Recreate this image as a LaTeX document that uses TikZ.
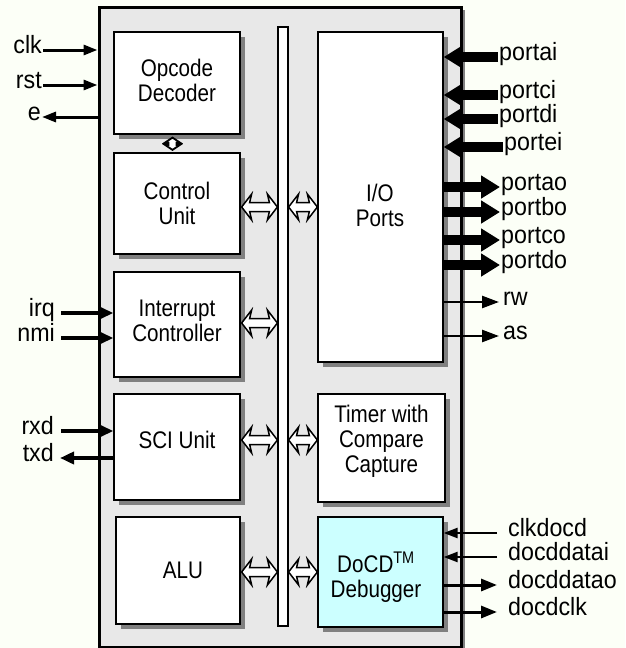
\documentclass[tikz,border=0pt]{standalone}
\usepackage{fontspec}
\setmainfont{Liberation Sans}
\newfontfamily\blkfont[FakeStretch=0.86]{Liberation Sans}
\newfontfamily\lblfont[FakeStretch=0.93]{Liberation Sans}
\usetikzlibrary{arrows.meta,shadows,calc}
\definecolor{bgc}{RGB}{252,255,247}
\definecolor{chipc}{RGB}{232,232,232}
\definecolor{dbgc}{RGB}{204,255,255}
\definecolor{shadowc}{RGB}{128,128,128}
\newcommand\hdbl[2]{\draw[dblarr] let \p1=(#1), \p2=(#2) in
  (\x1,\y1) -- (\x1+10pt,\y1+13pt) -- (\x1+8pt,\y1+4.5pt) -- (\x2-8pt,\y1+4.5pt) -- (\x2-10pt,\y1+13pt) -- (\x2,\y1)
  -- (\x2-10pt,\y1-13pt) -- (\x2-8pt,\y1-4.5pt) -- (\x1+8pt,\y1-4.5pt) -- (\x1+10pt,\y1-13pt) -- cycle;}
\newcommand\vdbl[2]{\draw[dblarr,line width=1.8pt] let \p1=(#1), \p2=(#2) in
  (\x1,\y1) -- (\x1+7.5pt,\y1-5pt) -- (\x1+4pt,\y1-5pt) -- (\x1+4pt,\y2+5pt) -- (\x1+7.5pt,\y2+5pt) -- (\x1,\y2)
  -- (\x1-7.5pt,\y2+5pt) -- (\x1-4pt,\y2+5pt) -- (\x1-4pt,\y1-5pt) -- (\x1-7.5pt,\y1-5pt) -- cycle;}
\begin{document}
\begin{tikzpicture}[x=1pt,y=-1pt,
  btxt/.style={font=\blkfont\fontsize{24}{25}\selectfont,align=center},
  blk/.style={draw,line width=1.3pt,fill=white,align=center,
    drop shadow={shadow xshift=5pt,shadow yshift=-5pt,fill=shadowc,opacity=1}},
  lbl/.style={font=\lblfont\fontsize{25}{26}\selectfont,inner sep=1pt,text height=1.5ex,text depth=.25ex},
  dblarr/.style={draw,line width=1.5pt,fill=white,line join=miter},
  sigA/.style={line width=3pt,-{Triangle[length=14pt,width=10pt]}},
  irqA/.style={line width=4.8pt,-{Triangle[length=14pt,width=12pt]}},
  bigA/.style={line width=9.5pt,-{Triangle[length=19pt,width=22pt]}},
  thinA/.style={line width=2.5pt,-{Triangle[length=17pt,width=12pt]}},
  dinA/.style={line width=2.4pt,-{Triangle[length=14pt,width=10pt]}},
  doutA/.style={line width=3pt,-{Triangle[length=16pt,width=12pt]}}]
\useasboundingbox (0,0) rectangle (625,648);
\fill[bgc] (0,0) rectangle (625,648);
% chip
\fill[shadowc] (102,10) rectangle (465,652);
\node[draw,line width=3pt,fill=chipc,minimum width=362pt,minimum height=640pt,inner sep=0pt] (chip) at (280,327) {};
% bus
\node[draw,line width=1.2pt,fill=white,minimum width=10pt,minimum height=599pt,inner sep=0pt] (bus) at (283,326.5) {};
% blocks
\node[blk,minimum width=126pt,minimum height=102pt] (opc) at (177,83) {};
\node[btxt] (opct) at (177,80) {Opcode\\Decoder};
\node[blk,minimum width=126pt,minimum height=101pt] (ctl) at (177,203.5) {};
\node[btxt] (ctlt) at (177,203) {Control\\Unit};
\node[blk,minimum width=126pt,minimum height=105pt] (irc) at (177,324.5) {};
\node[btxt] (irct) at (177,321) {Interrupt\\Controller};
\node[blk,minimum width=126pt,minimum height=106pt] (sci) at (177,447) {};
\node[btxt] (scit) at (177,440) {SCI Unit};
\node[blk,minimum width=124pt,minimum height=107pt] (alu) at (178,570.5) {};
\node[btxt] (alut) at (183,570) {ALU};
\node[blk,minimum width=125pt,minimum height=330pt] (io) at (380.5,197) {};
\node[btxt] (iot) at (380,205) {I/O\\Ports};
\node[blk,minimum width=127pt,minimum height=108pt] (tmr) at (381.5,448) {};
\node[btxt] (tmrt) at (381.5,441) {Timer with\\Compare\\Capture};
\node[blk,fill=dbgc,minimum width=125pt,minimum height=110pt] (dbg) at (380.5,572) {};
\node[btxt] (dbgt) at (376,577) {DoCD\textsuperscript{TM}\\Debugger};
% bus connectors
\hdbl{$(ctl.east)+(1,3.5)$}{bus.west}
\hdbl{$(irc.east)+(1,-1.5)$}{bus.west}
\hdbl{$(sci.east)+(1,-7)$}{bus.west}
\hdbl{$(alu.east)+(1,1.5)$}{bus.west}
\hdbl{$(bus.east |- ctl.east)+(0,3.5)$}{io.west}
\hdbl{$(bus.east |- sci.east)+(0,-7)$}{tmr.west}
\hdbl{$(bus.east |- alu.east)+(0,1.5)$}{dbg.west}
\vdbl{$(opc.south)+(-4.5,3)$}{$(ctl.north)+(0,-2.5)$}
% left labels and signals
\node[lbl,anchor=east] (clk) at (43,50) {clk};
\node[lbl,anchor=east] (rst) at (43,85) {rst};
\node[lbl,anchor=east] (e) at (42,117) {e};
\draw[sigA] (clk.east) -- (clk.east -| chip.west);
\draw[sigA] (rst.east) -- (rst.east -| chip.west);
\draw[sigA] (e.east -| chip.west) -- (e.east);
\node[lbl,anchor=east] (irq) at (56,313) {irq};
\node[lbl,anchor=east] (nmi) at (56,338) {nmi};
\node[lbl,anchor=east] (rxd) at (55,431) {rxd};
\node[lbl,anchor=east] (txd) at (55,458) {txd};
\draw[irqA] ($(irq.east)+(5,0)$) -- (irq.east -| irc.west);
\draw[irqA] ($(nmi.east)+(5,0)$) -- (nmi.east -| irc.west);
\draw[irqA] ($(rxd.east)+(6,0)$) -- (rxd.east -| sci.west);
\draw[irqA] (txd.east -| sci.west) -- ($(txd.east)+(5,0)$);
% right labels and signals
\node[lbl,anchor=west] (pai) at (498,57) {portai};
\node[lbl,anchor=west] (pci) at (498,95) {portci};
\node[lbl,anchor=west] (pdi) at (498,119) {portdi};
\node[lbl,anchor=west] (pei) at (503,147) {portei};
\foreach \n in {pai,pci,pdi,pei}
  \draw[bigA] (\n.west) -- (\n.west -| io.east);
\node[lbl,anchor=west] (pao) at (500,187) {portao};
\node[lbl,anchor=west] (pbo) at (500,212) {portbo};
\node[lbl,anchor=west] (pco) at (500,240) {portco};
\node[lbl,anchor=west] (pdo) at (500,265) {portdo};
\foreach \n in {pao,pbo,pco,pdo}
  \draw[bigA] (\n.west -| io.east) -- (\n.west);
\node[lbl,anchor=west] (rw) at (502,302) {rw};
\node[lbl,anchor=west] (as) at (502,336) {as};
\draw[thinA] (rw.west -| io.east) -- ($(rw.west)+(-3,0)$);
\draw[thinA] (as.west -| io.east) -- ($(as.west)+(-3,0)$);
\node[lbl,anchor=west] (ckd) at (507,533) {clkdocd};
\node[lbl,anchor=west] (ddi) at (507,557) {docddatai};
\node[lbl,anchor=west] (ddo) at (507,585) {docddatao};
\node[lbl,anchor=west] (dck) at (507,612) {docdclk};
\draw[dinA] ($(ckd.west)+(-10,0)$) -- (ckd.west -| dbg.east);
\draw[dinA] ($(ddi.west)+(-10,0)$) -- (ddi.west -| dbg.east);
\draw[doutA] (ddo.west -| dbg.east) -- ($(ddo.west)+(-10,0)$);
\draw[doutA] (dck.west -| dbg.east) -- ($(dck.west)+(-10,0)$);
\end{tikzpicture}
\end{document}
